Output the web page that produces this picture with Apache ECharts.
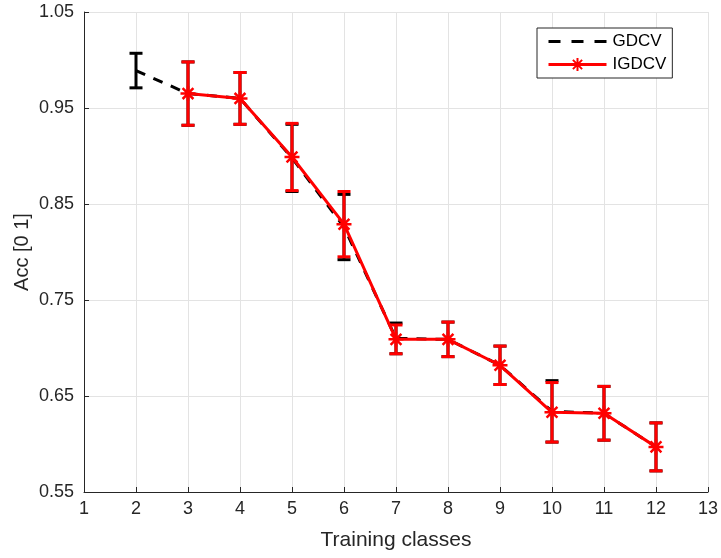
<!DOCTYPE html>
<html>
<head>
<meta charset="utf-8">
<script src="https://cdn.jsdelivr.net/npm/echarts@6/dist/echarts.min.js"></script>
<style>
  html, body { margin: 0; padding: 0; background: #fff; }
  #chart { width: 721px; height: 558px; }
</style>
</head>
<body>
<div id="chart"></div>
<script>
// Number of training classes on the x axis
const gdcvClasses = [2, 3, 4, 5, 6, 7, 8, 9, 10, 11, 12];
const igdcvClasses = [3, 4, 5, 6, 7, 8, 9, 10, 11, 12];

// Mean accuracy and half-width of the error bar for each method
const gdcvAcc = [0.989, 0.965, 0.960, 0.898, 0.826, 0.710, 0.709, 0.682, 0.634, 0.632, 0.597];
const gdcvErr = [0.018, 0.033, 0.027, 0.035, 0.034, 0.016, 0.018, 0.020, 0.032, 0.028, 0.025];
const igdcvAcc = [0.965, 0.960, 0.899, 0.829, 0.709, 0.709, 0.682, 0.633, 0.632, 0.597];
const igdcvErr = [0.033, 0.027, 0.035, 0.034, 0.015, 0.018, 0.020, 0.031, 0.028, 0.025];

const axisColor = '#262626';
const fontFamily = 'Liberation Sans, Arial, sans-serif';

const asterisk = 'path://M0,-5L0,5M-5,0L5,0M-3.6,-3.6L3.6,3.6M-3.6,3.6L3.6,-3.6';
// three short dashes for the dashed-line legend key
const dashKey = 'path://M0,0h12v3h-12zM23,0h12v3h-12zM46,0h12v3h-12z';

function pairs(xs, ys) { return xs.map((x, i) => [x, ys[i]]); }
function errRows(xs, ys, es) { return xs.map((x, i) => [x, ys[i] - es[i], ys[i] + es[i]]); }

function errorBar(color, width) {
  return function (params, api) {
    const x = api.value(0);
    const lo = api.coord([x, api.value(1)]);
    const hi = api.coord([x, api.value(2)]);
    const half = 6.5;
    const style = { stroke: color, lineWidth: width };
    return {
      type: 'group',
      children: [
        { type: 'line', shape: { x1: lo[0], y1: lo[1], x2: hi[0], y2: hi[1] }, style },
        { type: 'line', shape: { x1: lo[0] - half, y1: lo[1], x2: lo[0] + half, y2: lo[1] }, style },
        { type: 'line', shape: { x1: hi[0] - half, y1: hi[1], x2: hi[0] + half, y2: hi[1] }, style }
      ]
    };
  };
}

const chart = echarts.init(document.getElementById('chart'), null, { renderer: 'canvas' });

chart.setOption({
  animation: false,
  backgroundColor: '#fff',
  textStyle: { fontFamily },
  grid: { left: 84, right: 12, top: 12, bottom: 66, containLabel: false },
  legend: {
    left: 537, top: 28,
    orient: 'vertical',
    data: [
      { name: 'GDCV', icon: dashKey },
      { name: 'IGDCV' }
    ],
    backgroundColor: '#fff',
    borderColor: axisColor,
    borderWidth: 1,
    padding: [5, 6, 5, 10],
    itemGap: 6,
    itemWidth: 58,
    itemHeight: 16,
    lineStyle: { width: 3 },
    textStyle: { fontFamily, fontSize: 17, color: '#000', padding: [0, 0, 0, 1] }
  },
  xAxis: {
    type: 'value', min: 1, max: 13, interval: 1,
    name: 'Training classes', nameLocation: 'middle', nameGap: 38,
    nameTextStyle: { fontFamily, fontSize: 21, color: axisColor },
    axisLine: { show: true, onZero: false, lineStyle: { color: axisColor, width: 1 } },
    axisTick: { show: true, inside: true, length: 5, lineStyle: { color: axisColor } },
    axisLabel: { fontFamily, fontSize: 18, color: axisColor, margin: 8 },
    splitLine: { show: true, lineStyle: { color: '#e3e3e3', width: 1 } }
  },
  yAxis: {
    type: 'value', min: 0.55, max: 1.05, interval: 0.1,
    name: 'Acc [0 1]', nameLocation: 'middle', nameGap: 52, nameRotate: 90,
    nameMoveOverlap: false,
    nameTextStyle: { fontFamily, fontSize: 20, color: axisColor },
    axisLine: { show: true, onZero: false, lineStyle: { color: axisColor, width: 1 } },
    axisTick: { show: true, inside: true, length: 5, lineStyle: { color: axisColor } },
    axisLabel: {
      fontFamily, fontSize: 18, color: axisColor, margin: 10,
      formatter: v => v.toFixed(2)
    },
    splitLine: { show: true, lineStyle: { color: '#e3e3e3', width: 1 } }
  },
  series: [
    {
      name: 'GDCV', type: 'line',
      data: pairs(gdcvClasses, gdcvAcc),
      symbol: 'none', showSymbol: false,
      itemStyle: { color: '#000' },
      lineStyle: { color: '#000', width: 3, type: [10, 9] },
      z: 2
    },
    {
      name: 'GDCV error', type: 'custom',
      data: errRows(gdcvClasses, gdcvAcc, gdcvErr),
      renderItem: errorBar('#000', 3),
      encode: { x: 0, y: [1, 2] },
      z: 3, silent: true
    },
    {
      name: 'IGDCV error', type: 'custom',
      data: errRows(igdcvClasses, igdcvAcc, igdcvErr),
      renderItem: errorBar('#ff0000', 3),
      encode: { x: 0, y: [1, 2] },
      z: 4, silent: true
    },
    {
      name: 'IGDCV', type: 'line',
      data: pairs(igdcvClasses, igdcvAcc),
      symbol: asterisk, symbolSize: 15, showSymbol: true,
      itemStyle: { color: '#ff0000', borderColor: '#ff0000', borderWidth: 2.5 },
      lineStyle: { color: '#ff0000', width: 3 },
      z: 5
    }
  ]
});
</script>
</body>
</html>
